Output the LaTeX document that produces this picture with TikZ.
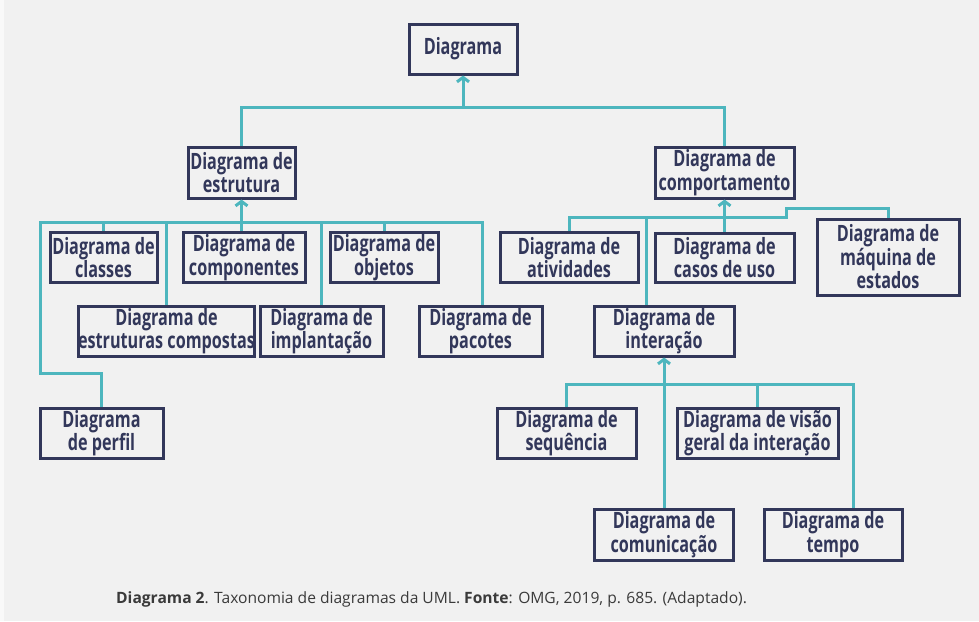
\documentclass[tikz,border=0pt]{standalone}
\usepackage{fontspec}
\setmainfont{Open Sans}
\newfontfamily\boxfont[FakeStretch=0.72]{Open Sans}
\usetikzlibrary{arrows.meta}
\definecolor{bg}{HTML}{F1F1F1}
\definecolor{navy}{HTML}{32375A}
\definecolor{lineteal}{HTML}{4DB6BE}
\definecolor{captxt}{HTML}{3A3A3A}
\begin{document}
\begin{tikzpicture}[x=1pt,y=-1pt,
  box/.style={draw=navy, line width=3pt, fill=bg, text=navy, align=center, inner sep=0pt,
    font=\boxfont\bfseries\fontsize{22.5}{23.5}\selectfont},
  conn/.style={draw=lineteal, line width=3pt},
  arr/.style={conn, -{Straight Barb[length=4.5pt,width=12pt]}}]
\fill[bg] (0,0) rectangle (979,621);
\fill[white!60!bg] (0,0) rectangle (4,621);
\useasboundingbox (0,0) rectangle (979,621);

% nodes
\node[box, minimum width=108pt, minimum height=50pt] (top) at (463,49) {Diagrama};
\node[box, minimum width=107pt, minimum height=51pt] (estr) at (241.5,172.5) {Diagrama de\\estrutura};
\node[box, minimum width=139pt, minimum height=51pt] (comp) at (724.5,172.5) {Diagrama de\\comportamento};

\node[box, minimum width=107pt, minimum height=50pt] (classes) at (103.5,257.5) {Diagrama de\\classes};
\node[box, minimum width=122pt, minimum height=50pt] (componentes) at (244,257.5) {Diagrama de\\componentes};
\node[box, minimum width=108pt, minimum height=50pt] (objetos) at (384,257.5) {Diagrama de\\objetos};
\node[box, minimum width=173pt, minimum height=50pt] (estcomp) at (166.5,331) {Diagrama de\\estruturas compostas};
\node[box, minimum width=123pt, minimum height=50pt] (implant) at (321.5,331) {Diagrama de\\implantação};
\node[box, minimum width=123pt, minimum height=50pt] (pacotes) at (480.5,331) {Diagrama de\\pacotes};
\node[box, minimum width=123pt, minimum height=50pt] (perfil) at (101.5,433) {Diagrama\\de perfil};

\node[box, minimum width=138pt, minimum height=50pt] (ativ) at (569,257.5) {Diagrama de\\atividades};
\node[box, minimum width=139pt, minimum height=49pt] (casos) at (724.5,257.5) {Diagrama de\\casos de uso};
\node[box, minimum width=142pt, minimum height=76pt] (maquina) at (888,257) {Diagrama de\\máquina de\\estados};
\node[box, minimum width=140pt, minimum height=50pt] (inter) at (664,331) {Diagrama de\\interação};
\node[box, minimum width=139pt, minimum height=50pt] (seq) at (566.5,433) {Diagrama de\\sequência};
\node[box, minimum width=161pt, minimum height=50pt] (visao) at (757.5,433) {Diagrama de visão\\geral da interação};
\node[box, minimum width=139pt, minimum height=51pt] (comun) at (664,534.5) {Diagrama de\\comunicação};
\node[box, minimum width=138pt, minimum height=51pt] (tempo) at (833,534.5) {Diagrama de\\tempo};

% top level
\coordinate (tj) at (463,107);
\draw[conn] (estr.north) |- (tj) -| (comp.north);
\draw[arr] (tj) -- (top.south);

% structure bus
\coordinate (bL) at (40,222);
\coordinate (bR) at (482,222);
\coordinate (pk) at (40,373);
\draw[conn] (perfil.north) |- (pk) -- (bL) -- (bR) -- (bR |- pacotes.north);
\draw[conn] (classes.north) -- (classes.north |- bL);
\draw[conn] (estcomp.north) -- (estcomp.north |- bL);
\draw[conn] (implant.north) -- (implant.north |- bL);
\draw[conn] (objetos.north) -- (objetos.north |- bL);
\draw[arr] (componentes.north -| estr.south) -- (estr.south);

% behaviour bus
\coordinate (ba) at (569,217);
\coordinate (bs1) at (786,217);
\coordinate (bs2) at (786,208);
\coordinate (bm) at (888,208);
\coordinate (bi) at (646,217);
\draw[conn] (ativ.north) -- (ativ.north |- ba) -- (bs1) -- (bs2) -- (bm) -- (maquina.north);
\draw[conn] (bi) -- (bi |- inter.north);
\draw[arr] (casos.north) -- (comp.south);

% interaction bus
\coordinate (la) at (566.5,384);
\coordinate (lt) at (853,384);
\draw[conn] (seq.north) -- (seq.north |- la) -- (lt) -- (lt |- tempo.north);
\draw[conn] (visao.north) -- (visao.north |- la);
\draw[arr] (comun.north -| inter.south) -- (inter.south);

% caption
\node[anchor=base west, inner sep=0pt, text=captxt, font=\fontsize{15.6}{18}\selectfont] (cap) at (116,603)
  {\textbf{Diagrama 2}. Taxonomia de diagramas da UML. \textbf{Fonte}: OMG, 2019, p. 685. (Adaptado).};
\end{tikzpicture}
\end{document}
